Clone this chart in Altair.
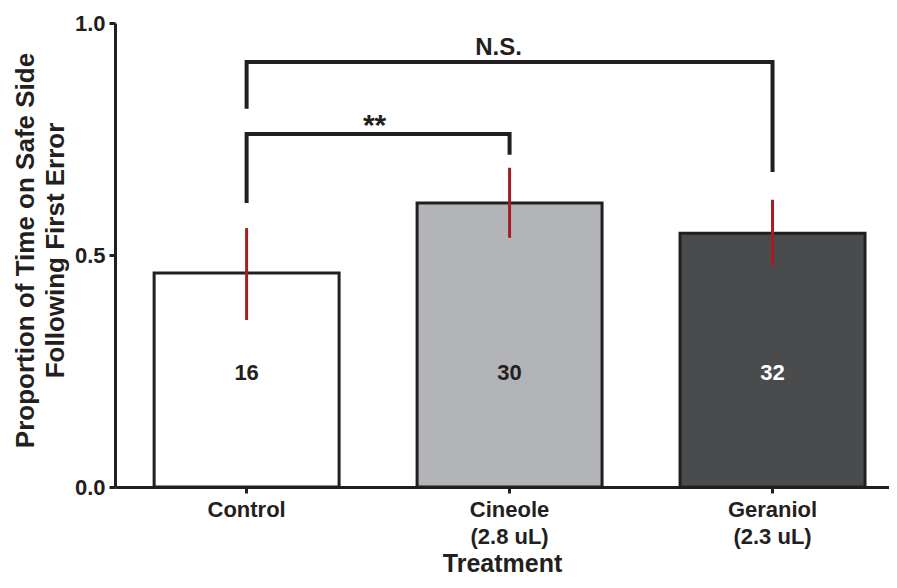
import altair as alt
import pandas as pd

# ---- data ----
treatments = ["Control", "Cineole\n(2.8 uL)", "Geraniol\n(2.3 uL)"]
means = [0.461, 0.612, 0.547]
err_lo = [0.360, 0.537, 0.478]
err_hi = [0.558, 0.688, 0.619]
n_labels = ["16", "30", "32"]
bar_fills = ["#ffffff", "#b3b4b7", "#4a4b4d"]
n_colors = ["#231f20", "#231f20", "#ffffff"]
n_label_y = [0.246, 0.246, 0.246]

bracket_id = ["ns", "ns", "ns", "ns", "ss", "ss", "ss", "ss"]
bracket_x = [treatments[0], treatments[0], treatments[2], treatments[2],
             treatments[0], treatments[0], treatments[1], treatments[1]]
bracket_y = [0.815, 0.916, 0.916, 0.679, 0.612, 0.761, 0.761, 0.716]
bracket_order = [0, 1, 2, 3, 0, 1, 2, 3]

sig_text = ["N.S.", "**"]
sig_x = [treatments[1], treatments[0]]
sig_y = [0.931, 0.758]

DARK = "#231f20"
RED = "#a51d24"
FONT = "Liberation Sans"

bars_df = pd.DataFrame({
    "treatment": treatments, "mean": means, "lo": err_lo, "hi": err_hi,
    "n": n_labels, "fill": bar_fills, "ncolor": n_colors, "ny": n_label_y,
})
br_df = pd.DataFrame({"id": bracket_id, "treatment": bracket_x,
                      "y": bracket_y, "order": bracket_order})
sig_df = pd.DataFrame({"text": sig_text, "treatment": sig_x, "y": sig_y})

x_scale = alt.Scale(domain=treatments, paddingInner=0.2966, paddingOuter=0.12, align=0.62)
y_scale = alt.Scale(domain=[0, 1], nice=False)

x_enc = alt.X(
    "treatment:N", scale=x_scale, sort=treatments,
    axis=alt.Axis(
        title="Treatment", labelAngle=0, labelExpr="split(datum.label, '\\n')",
        labelFontSize=22, labelFontWeight="bold", labelColor=DARK, labelFont=FONT,
        labelLineHeight=27, labelPadding=6, labelBaseline="top",
        tickSize=6, tickWidth=3, tickColor=DARK,
        domainWidth=3, domainColor=DARK,
        titleFontSize=25, titleFontWeight="bold", titleColor=DARK, titleFont=FONT,
        titleY=84, titleBaseline="alphabetic",
    ),
)
y_enc = alt.Y(
    "mean:Q", scale=y_scale,
    axis=alt.Axis(
        title=["Proportion of Time on Safe Side", "Following First Error"],
        values=[0, 0.5, 1.0], format=".1f", grid=False,
        labelFontSize=22, labelFontWeight="bold", labelColor=DARK, labelFont=FONT,
        labelPadding=4, tickSize=6, tickWidth=3, tickColor=DARK,
        domainWidth=3, domainColor=DARK,
        titleFontSize=26, titleFontWeight="bold", titleColor=DARK, titleFont=FONT,
        titleLineHeight=30, titleX=-90, titleY=227, titleBaseline="middle",
        titleAngle=270,
    ),
)

bars = alt.Chart(bars_df).mark_bar(stroke=DARK, strokeWidth=3).encode(
    x=x_enc, y=y_enc, fill=alt.Fill("fill:N", scale=None),
)

errs = alt.Chart(bars_df).mark_rule(color=RED, strokeWidth=3).encode(
    x=alt.X("treatment:N", scale=x_scale, sort=treatments),
    y=alt.Y("lo:Q", scale=y_scale),
    y2="hi:Q",
)

nlab = alt.Chart(bars_df).mark_text(
    fontSize=22, fontWeight="bold", font=FONT, baseline="middle"
).encode(
    x=alt.X("treatment:N", scale=x_scale, sort=treatments),
    y=alt.Y("ny:Q", scale=y_scale),
    text="n:N",
    color=alt.Color("ncolor:N", scale=None),
)

brackets = alt.Chart(br_df).mark_line(
    color=DARK, strokeWidth=4, strokeJoin="miter", strokeCap="butt"
).encode(
    x=alt.X("treatment:N", scale=x_scale, sort=treatments),
    y=alt.Y("y:Q", scale=y_scale),
    detail="id:N",
    order="order:Q",
)

ns = alt.Chart(sig_df.iloc[[0]]).mark_text(
    fontSize=24, fontWeight="bold", font=FONT, baseline="alphabetic", color=DARK, dx=-11
).encode(
    x=alt.X("treatment:N", scale=x_scale, sort=treatments),
    y=alt.Y("y:Q", scale=y_scale),
    text="text:N",
)
stars = alt.Chart(sig_df.iloc[[1]]).mark_text(
    fontSize=30, fontWeight="bold", font=FONT, baseline="alphabetic", color=DARK, dx=128
).encode(
    x=alt.X("treatment:N", scale=x_scale, sort=treatments),
    y=alt.Y("y:Q", scale=y_scale),
    text="text:N",
)

chart = alt.layer(bars, errs, nlab, brackets, ns, stars).properties(
    width=774, height=464,
    autosize=alt.AutoSizeParams(type="none"),
    padding={"left": 107, "top": 15, "right": 0, "bottom": 89},
).configure(font=FONT, background="white").configure_view(stroke=None)

chart.save("out.html", embed_options={"renderer": "svg", "actions": False})
